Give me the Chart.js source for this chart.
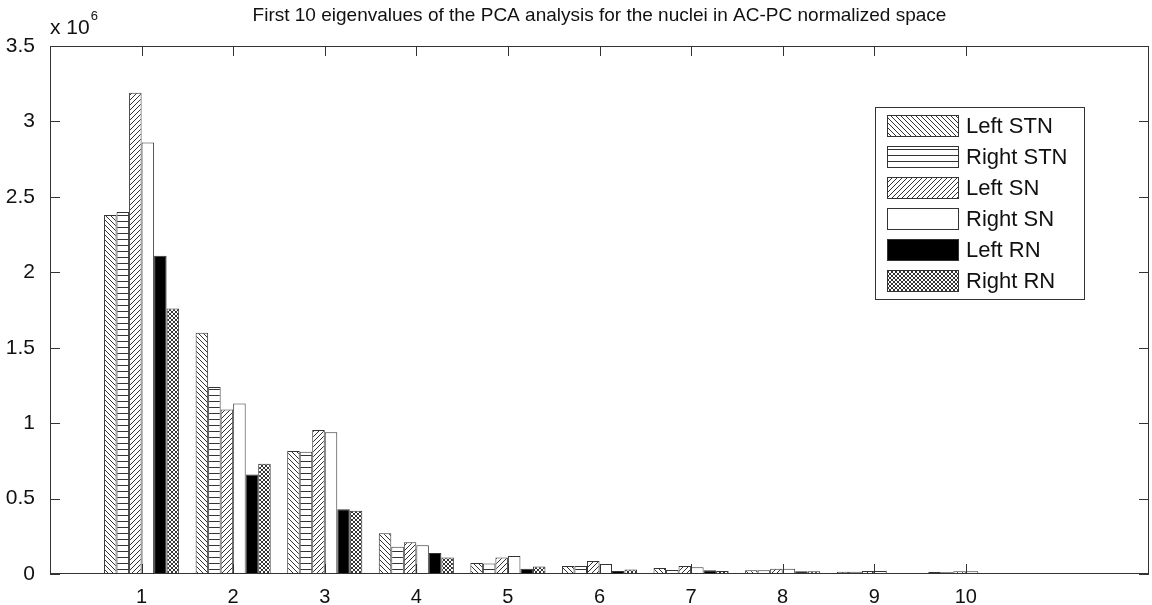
<!DOCTYPE html>
<html>
<head>
<meta charset="utf-8">
<script src="https://cdn.jsdelivr.net/npm/chart.js@4"></script>
<style>
  body { margin: 0; background: #fff; }
  #wrap { width: 1152px; height: 605px; }
</style>
</head>
<body>
<div id="wrap"><canvas id="pca_Chart" width="1152" height="605"></canvas></div>
<script>
const TITLE = "First 10 eigenvalues of the PCA analysis for the nuclei in AC-PC normalized space";
const groups = ["1", "2", "3", "4", "5", "6", "7", "8", "9", "10"];
const seriesNames = ["Left STN", "Right STN", "Left SN", "Right SN", "Left RN", "Right RN"];
// values in units of 10^6
const leftSTN = [2.38, 1.60, 0.815, 0.27, 0.073, 0.053, 0.04, 0.025, 0.015, 0.013];
const rightSTN = [2.40, 1.24, 0.81, 0.18, 0.07, 0.053, 0.027, 0.025, 0.015, 0.012];
const leftSN = [3.19, 1.09, 0.955, 0.21, 0.11, 0.086, 0.053, 0.035, 0.02, 0.018];
const rightSN = [2.86, 1.13, 0.94, 0.19, 0.12, 0.066, 0.045, 0.035, 0.02, 0.018];
const leftRN = [2.11, 0.66, 0.43, 0.14, 0.035, 0.02, 0.025, 0.018, 0.005, 0.004];
const rightRN = [1.76, 0.73, 0.42, 0.11, 0.05, 0.03, 0.02, 0.018, 0.005, 0.004];
const yTicks = [0, 0.5, 1, 1.5, 2, 2.5, 3, 3.5];

const FONT = "'Liberation Sans', Arial, Helvetica, sans-serif";
const INK = "#333";

// x axis runs 0..12 like the original, groups sit on 1..10
const xLabels = ["", ...groups, "", ""];
function pad(arr) {
  return [null, ...arr, null, null];
}

function makePattern(kind) {
  const c = document.createElement("canvas");
  const s = kind === "horiz" ? 6 : kind === "cross" ? 4 : 5;
  c.width = s;
  c.height = s;
  const g = c.getContext("2d");
  g.fillStyle = "#fff";
  g.fillRect(0, 0, s, s);
  g.strokeStyle = "#333";
  g.lineWidth = 1;
  g.beginPath();
  if (kind === "back") {
    g.moveTo(-1, -1); g.lineTo(s + 1, s + 1);
    g.moveTo(-1, s - 1); g.lineTo(1, s + 1);
    g.moveTo(s - 1, -1); g.lineTo(s + 1, 1);
  } else if (kind === "fwd") {
    g.moveTo(-1, s + 1); g.lineTo(s + 1, -1);
    g.moveTo(-1, 1); g.lineTo(1, -1);
    g.moveTo(s - 1, s + 1); g.lineTo(s + 1, s - 1);
  } else if (kind === "horiz") {
    g.moveTo(0, s - 0.5); g.lineTo(s, s - 0.5);
  } else if (kind === "cross") {
    g.moveTo(-1, -1); g.lineTo(s + 1, s + 1);
    g.moveTo(-1, s + 1); g.lineTo(s + 1, -1);
  }
  g.stroke();
  return g.createPattern(c, "repeat");
}

const fills = [
  makePattern("back"),
  makePattern("horiz"),
  makePattern("fwd"),
  "#ffffff",
  "#000000",
  makePattern("cross"),
];

const frame = {
  id: "frame",
  afterDraw(chart) {
    const { ctx, chartArea: a, scales } = chart;
    const x = scales.x;
    const y = scales.y;
    ctx.save();
    ctx.strokeStyle = INK;
    ctx.lineWidth = 1;
    ctx.strokeRect(a.left + 0.5, a.top + 0.5, a.right - a.left - 1, a.bottom - a.top - 1);

    // inward ticks like matlab
    ctx.beginPath();
    for (let i = 1; i <= groups.length; i++) {
      const px = Math.round(x.getPixelForValue(i)) + 0.5;
      ctx.moveTo(px, a.bottom); ctx.lineTo(px, a.bottom - 10);
      ctx.moveTo(px, a.top); ctx.lineTo(px, a.top + 10);
    }
    yTicks.forEach((v) => {
      const py = Math.round(y.getPixelForValue(v)) + 0.5;
      ctx.moveTo(a.left, py); ctx.lineTo(a.left + 10, py);
      ctx.moveTo(a.right, py); ctx.lineTo(a.right - 10, py);
    });
    ctx.stroke();

    // title + exponent
    ctx.fillStyle = "#111";
    ctx.textAlign = "center";
    ctx.textBaseline = "middle";
    ctx.font = "19px " + FONT;
    ctx.fillText(TITLE, (a.left + a.right) / 2, 16);
    ctx.textAlign = "left";
    ctx.font = "21px " + FONT;
    ctx.fillText("x 10", a.left, 28);
    const w = ctx.measureText("x 10").width;
    ctx.font = "13px " + FONT;
    ctx.fillText("6", a.left + w + 1, 16);

    // legend box inside the axes
    const lx = 875, ly = 107, lw = 209, lh = 192;
    ctx.fillStyle = "#fff";
    ctx.fillRect(lx, ly, lw, lh);
    ctx.strokeRect(lx + 0.5, ly + 0.5, lw, lh);
    ctx.font = "22px " + FONT;
    chart.data.datasets.forEach((ds, i) => {
      const sy = ly + 8 + i * 31;
      ctx.fillStyle = ds.backgroundColor;
      ctx.fillRect(887, sy, 71, 21);
      ctx.strokeStyle = INK;
      ctx.strokeRect(887.5, sy + 0.5, 71, 21);
      ctx.fillStyle = "#111";
      ctx.fillText(ds.label, 966, sy + 12);
    });
    ctx.restore();
  },
};

function initChart() {
  const ctx = document.getElementById("pca_Chart").getContext("2d");
  const allSeries = [leftSTN, rightSTN, leftSN, rightSN, leftRN, rightRN];
  new Chart(ctx, {
    type: "bar",
    data: {
      labels: xLabels,
      datasets: allSeries.map((arr, i) => ({
        label: seriesNames[i],
        data: pad(arr),
        backgroundColor: fills[i],
        borderColor: INK,
        borderWidth: 1,
        borderSkipped: "bottom",
        barPercentage: 1,
        categoryPercentage: 0.82,
      })),
    },
    options: {
      responsive: false,
      animation: false,
      devicePixelRatio: 1,
      layout: { padding: { top: 46, right: 0, left: 0, bottom: 0 } },
      plugins: {
        legend: { display: false },
        tooltip: { enabled: false },
      },
      scales: {
        x: {
          offset: false,
          grid: { display: false, offset: false },
          border: { display: false },
          ticks: {
            autoSkip: false,
            maxRotation: 0,
            padding: 3,
            color: "#111",
            font: { size: 20, family: FONT },
          },
          afterFit: (s) => { s.height = 31; },
        },
        y: {
          min: 0,
          max: 3.5,
          grid: { display: false },
          border: { display: false },
          ticks: {
            stepSize: 0.5,
            padding: 7,
            color: "#111",
            font: { size: 21, family: FONT },
            callback: (v) => String(v),
          },
          afterFit: (s) => { s.width = 50; },
        },
      },
    },
    plugins: [frame],
  });
}

window.onload = initChart;
</script>
</body>
</html>
